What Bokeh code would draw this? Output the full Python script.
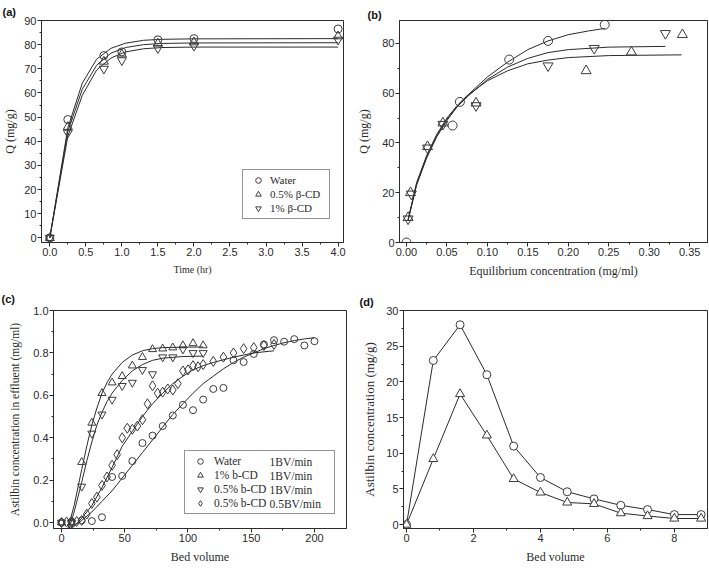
from bokeh.plotting import figure
from bokeh.layouts import column, row
from bokeh.models import Range1d, FixedTicker, Legend, LegendItem, Label
from bokeh.embed import file_html
from bokeh.resources import INLINE

# ---------------- (a) adsorption kinetics ----------------
a_time = [0, 0.25, 0.75, 1.0, 1.5, 2.0, 4.0]
a_water = [0, 49, 75.5, 77, 82, 82.5, 86.5]
a_cd05 = [0, 46, 73, 76, 80.5, 81, 83.5]
a_cd1 = [0, 43.5, 70, 73.5, 78.5, 79.5, 82]
a_fit_t = [0, 0.25, 0.45, 0.65, 0.85, 1.05, 1.3, 1.55, 2.0, 4.0]
a_fit_water = [0, 45.5, 64, 74, 78.5, 80.6, 81.8, 82.2, 82.4, 82.5]
a_fit_cd05 = [0, 44, 61.5, 71.5, 76.5, 78.8, 80, 80.5, 80.7, 80.8]
a_fit_cd1 = [0, 42, 59, 69.5, 74.5, 77, 78.3, 78.8, 79, 79]
a_labels = ["Water", "0.5% \u03b2-CD", "1% \u03b2-CD"]
a_xticks = [0.0, 0.5, 1.0, 1.5, 2.0, 2.5, 3.0, 3.5, 4.0]
a_xticklabels = ["0.0", "0.5", "1.0", "1.5", "2.0", "2.5", "3.0", "3.5", "4.0"]
a_xminor = [0.25, 0.75, 1.25, 1.75, 2.25, 2.75, 3.25, 3.75]
a_yticks = [0, 10, 20, 30, 40, 50, 60, 70, 80, 90]
a_yminor = [5, 15, 25, 35, 45, 55, 65, 75, 85]

# ---------------- (b) isotherms ----------------
b_water_x = [0.0, 0.057, 0.066, 0.127, 0.175, 0.245]
b_water_y = [0.0, 47, 56.5, 73.5, 81, 87.5]
b_cd05_x = [0.002, 0.005, 0.026, 0.045, 0.086, 0.222, 0.278, 0.341]
b_cd05_y = [10, 20, 38.5, 48, 56, 69, 76.5, 83.5]
b_cd1_x = [0.002, 0.006, 0.026, 0.045, 0.086, 0.175, 0.232, 0.320]
b_cd1_y = [9.5, 19.5, 38, 47.5, 55, 71, 78, 84]
b_fit_water_x = [0.002, 0.0125, 0.025, 0.0375, 0.05, 0.0625, 0.075, 0.1, 0.125, 0.15, 0.175, 0.2, 0.225, 0.245]
b_fit_water_y = [9, 23, 34, 42.5, 49, 54.5, 59, 66.5, 72.5, 77.5, 81, 83.5, 85, 86]
b_fit_cd1_x = [0.002, 0.0125, 0.025, 0.0375, 0.05, 0.0625, 0.075, 0.1, 0.125, 0.15, 0.175, 0.2, 0.25, 0.32]
b_fit_cd1_y = [9, 23.5, 34.5, 43, 49.5, 54.5, 58.5, 65.5, 70.5, 74, 76.3, 77.5, 78.5, 78.8]
b_fit_cd05_x = [0.002, 0.0125, 0.025, 0.0375, 0.05, 0.0625, 0.075, 0.1, 0.125, 0.15, 0.175, 0.2, 0.25, 0.34]
b_fit_cd05_y = [9, 24, 35, 43.5, 50, 55, 59, 65, 69, 71.8, 73.3, 74.3, 75.1, 75.4]
b_xticks = [0.0, 0.05, 0.10, 0.15, 0.20, 0.25, 0.30, 0.35]
b_xticklabels = ["0.00", "0.05", "0.10", "0.15", "0.20", "0.25", "0.30", "0.35"]
b_xminor = [0.025, 0.075, 0.125, 0.175, 0.225, 0.275, 0.325]
b_yticks = [0, 20, 40, 60, 80]
b_yminor = [10, 30, 50, 70]

# ---------------- (c) breakthrough curves ----------------
c_water_x = [0, 8, 16, 24, 32, 40, 48, 56, 64, 72, 80, 88, 96, 104, 112, 120, 128, 136, 144, 152, 160, 168, 176, 184, 192, 200]
c_water_y = [0.0, 0.005, 0.01, 0.007, 0.025, 0.215, 0.22, 0.29, 0.375, 0.41, 0.455, 0.505, 0.555, 0.53, 0.58, 0.63, 0.635, 0.765, 0.757, 0.795, 0.84, 0.86, 0.853, 0.865, 0.835, 0.855]
c_cd1_x = [0, 8, 16, 24, 32, 40, 48, 56, 64, 72, 80, 88, 96, 104, 112]
c_cd1_y = [0.0, 0.0, 0.285, 0.47, 0.61, 0.66, 0.69, 0.74, 0.78, 0.817, 0.82, 0.825, 0.835, 0.845, 0.835]
c_cd05_x = [0, 8, 16, 24, 32, 40, 48, 56, 64, 72, 80, 88, 96, 104, 112]
c_cd05_y = [0.0, 0.0, 0.17, 0.42, 0.51, 0.58, 0.645, 0.66, 0.72, 0.70, 0.78, 0.78, 0.817, 0.80, 0.80]
c_slow_x = [0, 4, 8, 12, 16, 20, 24, 28, 32, 36, 40, 44, 48, 52, 56, 60, 64, 68, 72, 76, 80, 84, 88, 92, 96, 100, 104, 108, 112, 120, 128, 136, 144, 152, 160, 168]
c_slow_y = [0.0, 0.003, 0.005, 0.005, 0.01, 0.04, 0.09, 0.12, 0.175, 0.215, 0.27, 0.32, 0.40, 0.445, 0.44, 0.455, 0.485, 0.56, 0.645, 0.61, 0.615, 0.63, 0.625, 0.655, 0.715, 0.72, 0.74, 0.735, 0.745, 0.76, 0.78, 0.80, 0.82, 0.825, 0.835, 0.84]
c_fit_cd1_x = [5, 10, 16, 20, 24, 28, 32, 36, 40, 48, 56, 64, 72, 80, 96, 112]
c_fit_cd1_y = [-0.03, 0.08, 0.25, 0.36, 0.46, 0.54, 0.61, 0.66, 0.70, 0.755, 0.79, 0.81, 0.82, 0.825, 0.827, 0.828]
c_fit_cd05_x = [6, 10, 16, 20, 24, 28, 32, 36, 40, 48, 56, 64, 72, 80, 96, 112]
c_fit_cd05_y = [-0.03, 0.05, 0.19, 0.29, 0.38, 0.46, 0.52, 0.57, 0.61, 0.67, 0.715, 0.745, 0.765, 0.775, 0.783, 0.785]
c_fit_slow_x = [8, 16, 24, 32, 40, 48, 56, 64, 72, 80, 88, 96, 104, 112, 120, 136, 152, 168]
c_fit_slow_y = [-0.03, 0.02, 0.08, 0.165, 0.26, 0.36, 0.43, 0.50, 0.56, 0.61, 0.655, 0.69, 0.72, 0.74, 0.755, 0.78, 0.80, 0.81]
c_fit_water_x = [6, 16, 24, 32, 40, 48, 56, 64, 72, 80, 88, 96, 104, 112, 120, 128, 136, 144, 152, 160, 168, 176, 184, 192, 200]
c_fit_water_y = [-0.03, 0.01, 0.05, 0.10, 0.15, 0.21, 0.27, 0.33, 0.39, 0.45, 0.51, 0.56, 0.61, 0.655, 0.69, 0.725, 0.755, 0.78, 0.80, 0.82, 0.835, 0.848, 0.858, 0.866, 0.872]
c_labels = ["Water", "1% b-CD", "0.5% b-CD", "0.5% b-CD"]
c_rates = ["1BV/min", "1BV/min", "1BV/min", "0.5BV/min"]
c_xticks = [0, 50, 100, 150, 200]
c_xminor = [25, 75, 125, 175]
c_yticks = [0.0, 0.2, 0.4, 0.6, 0.8, 1.0]
c_yticklabels = ["0.0", "0.2", "0.4", "0.6", "0.8", "1.0"]
c_yminor = [0.1, 0.3, 0.5, 0.7, 0.9]

# ---------------- (d) desorption ----------------
d_bv = [0, 0.8, 1.6, 2.4, 3.2, 4.0, 4.8, 5.6, 6.4, 7.2, 8.0, 8.8]
d_circle = [0, 23, 28, 21, 11, 6.6, 4.6, 3.6, 2.7, 2.1, 1.4, 1.4]
d_triangle = [0, 9.2, 18.3, 12.5, 6.4, 4.5, 3.1, 2.9, 1.6, 1.2, 0.85, 0.85]
d_xticks = [0, 2, 4, 6, 8]
d_xminor = [1, 3, 5, 7]
d_yticks = [0, 5, 10, 15, 20, 25, 30]
d_yminor = [2.5, 7.5, 12.5, 17.5, 22.5, 27.5]

INK = "#2b2b2b"
MK = "#3c3c3c"
SANS = "Liberation Sans"
SERIF = "Liberation Serif"


class Panel:
    """Figure plus the pixel box of its frame (in the figure's own canvas)."""

    def __init__(self, w, h, xr, yr, bl, br, bt, bb):
        self.w, self.h = w, h
        self.xr, self.yr = xr, yr
        self.fl, self.fr = bl, w - br
        self.ft, self.fb = bt, h - bb
        p = figure(width=w, height=h, x_range=Range1d(*xr), y_range=Range1d(*yr),
                   output_backend="svg", toolbar_location=None,
                   min_border_left=bl, min_border_right=br,
                   min_border_top=bt, min_border_bottom=bb)
        p.grid.visible = False
        p.outline_line_color = INK
        p.outline_line_width = 1
        for ax in (p.xaxis[0], p.yaxis[0]):
            ax.axis_line_color = INK
            ax.major_tick_in = 0
            ax.major_tick_out = 4
            ax.minor_tick_in = 0
            ax.minor_tick_out = 2
            ax.major_tick_line_color = INK
            ax.minor_tick_line_color = INK
            ax.major_label_text_font = SANS
            ax.major_label_text_font_size = "11px"
            ax.major_label_text_color = INK
            ax.axis_label_text_font = SERIF
            ax.axis_label_text_font_style = "normal"
            ax.axis_label_text_font_size = "12px"
            ax.axis_label_text_color = INK
            ax.major_label_standoff = 1
            ax.axis_label_standoff = 3
        self.p = p

    def dx(self, px):
        return self.xr[0] + (px - self.fl) / (self.fr - self.fl) * (self.xr[1] - self.xr[0])

    def dy(self, py):
        return self.yr[1] - (py - self.ft) / (self.fb - self.ft) * (self.yr[1] - self.yr[0])

    def label(self, px, py, text, size="11px"):
        self.p.add_layout(Label(x=self.dx(px), y=self.dy(py), text=text, text_font=SERIF,
                                text_font_size=size, text_color=INK, level="overlay",
                                text_baseline="middle", text_align="left"))

    def tag(self, text, left_px, standoff):
        t = self.p.title
        t.text = text
        t.align = "left"
        t.vertical_align = "bottom"
        t.offset = left_px - self.fl
        t.standoff = standoff
        t.text_font = SANS
        t.text_font_size = "11px"
        t.text_font_style = "bold"
        t.text_color = "#111111"


def set_ticks(axis, major, minor, labels=None):
    axis.ticker = FixedTicker(ticks=major, minor_ticks=minor)
    if labels is not None:
        axis.major_label_overrides = {t: l for t, l in zip(major, labels)}


def style_legend(leg, gw, pad, standoff, lw, font_size):
    leg.label_text_font = SERIF
    leg.label_text_font_size = font_size
    leg.label_text_color = INK
    leg.border_line_color = INK
    leg.border_line_width = 1
    leg.background_fill_alpha = 0
    leg.glyph_width = gw
    leg.glyph_height = 14
    leg.label_height = 14
    leg.padding = pad
    leg.spacing = 0
    leg.label_standoff = standoff
    leg.label_width = lw
    leg.margin = 0


# ---- panel (a)   canvas 354 x 284 at (0, 0)
A = Panel(354, 284, (-0.115, 4.075), (-1.9, 90), 41, 11, 19, 42)
pa = A.p
set_ticks(pa.xaxis[0], a_xticks, a_xminor, a_xticklabels)
set_ticks(pa.yaxis[0], a_yticks, a_yminor)
pa.xaxis[0].axis_label = "Time (hr)"
pa.xaxis[0].axis_label_text_font_size = "10px"
pa.xaxis[0].axis_label_standoff = 5
pa.yaxis[0].axis_label = "Q (mg/g)"
pa.yaxis[0].axis_label_standoff = 4
for fy in (a_fit_water, a_fit_cd05, a_fit_cd1):
    pa.line(a_fit_t, fy, line_color=INK, line_width=1)
ra1 = pa.scatter(a_time, a_water, marker="circle", size=8, fill_color=None, line_color=MK)
ra2 = pa.scatter(a_time, a_cd05, marker="triangle", size=9, fill_color=None, line_color=MK)
ra3 = pa.scatter(a_time, a_cd1, marker="inverted_triangle", size=9, fill_color=None, line_color=MK)
lega = Legend(items=[LegendItem(label=l, renderers=[r]) for l, r in zip(a_labels, (ra1, ra2, ra3))],
              location=(201, 23))
style_legend(lega, 24, 3, 0, 56, "11px")
pa.add_layout(lega)
A.tag("(a)", 2, 6)

# ---- panel (b)   canvas 355 x 284 at (354, 0)
B = Panel(355, 284, (-0.0086, 0.372), (0, 89.2), 42, 2, 13, 40)
pb = B.p
set_ticks(pb.xaxis[0], b_xticks, b_xminor, b_xticklabels)
set_ticks(pb.yaxis[0], b_yticks, b_yminor)
pb.xaxis[0].axis_label = "Equilibrium concentration (mg/ml)"
pb.xaxis[0].axis_label_standoff = 5
pb.yaxis[0].axis_label = "Q (mg/g)"
pb.yaxis[0].axis_label_standoff = 8
pb.line(b_fit_water_x, b_fit_water_y, line_color=INK, line_width=1)
pb.line(b_fit_cd1_x, b_fit_cd1_y, line_color=INK, line_width=1)
pb.line(b_fit_cd05_x, b_fit_cd05_y, line_color=INK, line_width=1)
pb.scatter(b_water_x, b_water_y, marker="circle", size=9, fill_color=None, line_color=MK)
pb.scatter(b_cd05_x, b_cd05_y, marker="triangle", size=10, fill_color=None, line_color=MK)
pb.scatter(b_cd1_x, b_cd1_y, marker="inverted_triangle", size=10, fill_color=None, line_color=MK)
B.tag("(b)", 10, 0)

# ---- panel (c)   canvas 354 x 284 at (0, 284)
C = Panel(354, 284, (-6.3, 225.3), (-0.028, 1.0), 53, 8, 25, 39)
pc = C.p
set_ticks(pc.xaxis[0], c_xticks, c_xminor)
set_ticks(pc.yaxis[0], c_yticks, c_yminor, c_yticklabels)
pc.xaxis[0].axis_label = "Bed volume"
pc.xaxis[0].axis_label_standoff = 5
pc.yaxis[0].axis_label = "Astilbin concentration in effluent (mg/ml)"
pc.yaxis[0].axis_label_text_font_size = "11.5px"
pc.yaxis[0].axis_label_standoff = 9
for fx, fy in ((c_fit_cd1_x, c_fit_cd1_y), (c_fit_cd05_x, c_fit_cd05_y),
               (c_fit_slow_x, c_fit_slow_y), (c_fit_water_x, c_fit_water_y)):
    pc.line(fx, fy, line_color=INK, line_width=1)
rc1 = pc.scatter(c_water_x, c_water_y, marker="circle", size=7, fill_color=None, line_color=MK)
rc2 = pc.scatter(c_cd1_x, c_cd1_y, marker="triangle", size=8, fill_color=None, line_color=MK)
rc3 = pc.scatter(c_cd05_x, c_cd05_y, marker="inverted_triangle", size=8, fill_color=None, line_color=MK)
rc4 = pc.scatter(c_slow_x, c_slow_y, marker="diamond", size=10, fill_color=None, line_color=MK)
legc = Legend(items=[LegendItem(label=l, renderers=[r]) for l, r in zip(c_labels, (rc1, rc2, rc3, rc4))],
              location=(131, 14))
style_legend(legc, 24, 3, 2, 117, "11.5px")
pc.add_layout(legc)
for i, t in enumerate(c_rates):
    C.label(269, 461.5 - 284 + 14.3 * i, t, size="11.5px")
C.tag("(c)", 1, 12)

# ---- panel (d)   canvas 355 x 284 at (354, 284)
D = Panel(355, 284, (-0.09, 8.99), (-0.55, 30), 49, 2, 21, 40)
pd_ = D.p
set_ticks(pd_.xaxis[0], d_xticks, d_xminor)
set_ticks(pd_.yaxis[0], d_yticks, d_yminor)
pd_.xaxis[0].axis_label = "Bed volume"
pd_.xaxis[0].axis_label_standoff = 5
pd_.yaxis[0].axis_label = "Astilbin concentration (mg/g)"
pd_.yaxis[0].axis_label_text_font_size = "13px"
pd_.yaxis[0].axis_label_standoff = 6
pd_.line(d_bv, d_circle, line_color=INK, line_width=1)
pd_.line(d_bv, d_triangle, line_color=INK, line_width=1)
pd_.scatter(d_bv, d_circle, marker="circle", size=8, fill_color="white", line_color=MK)
pd_.scatter(d_bv, d_triangle, marker="triangle", size=9, fill_color="white", line_color=MK)
D.tag("(d)", 5, 6)

layout = column(row(pa, pb), row(pc, pd_))
open("out.html", "w").write(file_html(layout, INLINE))
